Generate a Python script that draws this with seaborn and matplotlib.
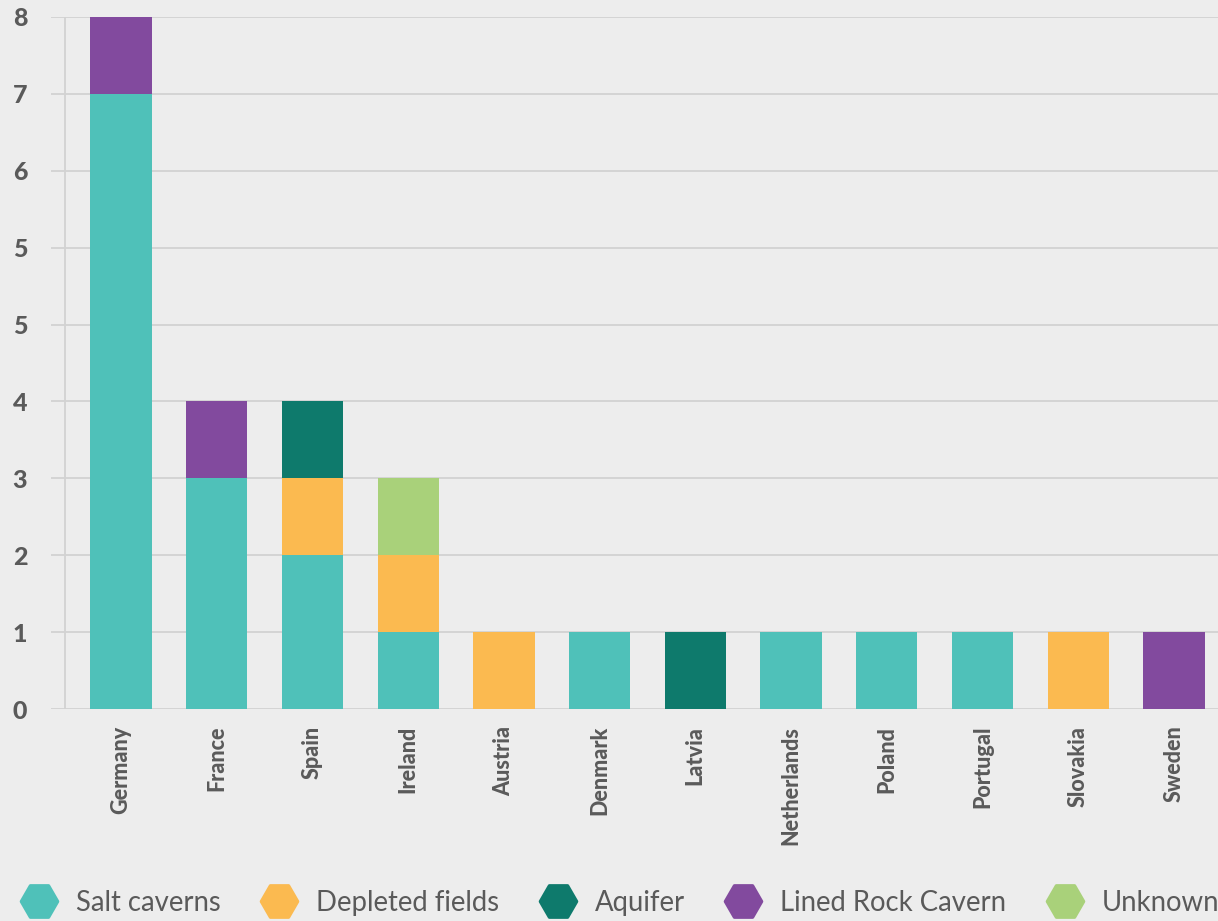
import matplotlib
matplotlib.use("Agg")
import matplotlib.pyplot as plt
import seaborn as sns
import numpy as np
from matplotlib.lines import Line2D
from matplotlib.markers import MarkerStyle

countries = ["Germany", "France", "Spain", "Ireland", "Austria", "Denmark",
             "Latvia", "Netherlands", "Poland", "Portugal", "Slovakia", "Sweden"]
salt_caverns = [8, 3, 2, 1, 0, 1, 0, 1, 1, 1, 0, 0]
depleted_fields = [0, 0, 1, 1, 1, 0, 0, 0, 0, 0, 1, 0]
aquifer = [0, 0, 1, 0, 0, 0, 1, 0, 0, 0, 0, 0]
lined_rock_cavern = [1, 1, 0, 0, 0, 0, 0, 0, 0, 0, 0, 1]
unknown = [0, 0, 0, 1, 0, 0, 0, 0, 0, 0, 0, 0]
series_names = ["Salt caverns", "Depleted fields", "Aquifer", "Lined Rock Cavern", "Unknown"]
series_colors = ["#4FC1B9", "#FBBA50", "#0E7A6C", "#824A9E", "#A9D17A"]
ytick_values = [0, 1, 2, 3, 4, 5, 6, 7, 8, 9]
ytick_labels = ["0", "1", "2", "3", "4", "5", "5", "6", "7", "8"]

BG = "#EDEDED"
GRID = "#D2D2D2"
TXT = "#5A5A5A"

sns.set_theme(style="white")
plt.rcParams["font.family"] = ["Lato", "DejaVu Sans"]
plt.rcParams["font.weight"] = "bold"

fig = plt.figure(figsize=(12.18, 9.21), dpi=100, facecolor=BG)
ax = fig.add_axes([51 / 1218, 1 - 709 / 921, 1 - 51 / 1218, (709 - 17) / 921])
ax.set_facecolor(BG)

layers = [salt_caverns, depleted_fields, aquifer, lined_rock_cavern, unknown]
cum = np.cumsum(np.array(layers, dtype=float), axis=0)
for i in range(len(layers) - 1, -1, -1):
    sns.barplot(x=countries, y=cum[i], order=countries, color=series_colors[i],
                saturation=1, width=0.64, linewidth=0, errorbar=None, ax=ax, zorder=3)

ax.set_xlim(-0.731, 11.46)
ax.set_ylim(0, 9)
ax.set_yticks(ytick_values, ytick_labels, fontweight=900, fontsize=18, color=TXT)
ax.set_xticks(range(len(countries)), countries, fontweight=900, fontsize=15.5,
              color=TXT, rotation=90, ha="center", va="top")
ax.yaxis.grid(True, color=GRID, lw=1.3, zorder=0)
ax.xaxis.grid(False)
ax.set_axisbelow(True)
ax.axvline(-0.585, color=GRID, lw=1.3, zorder=1)
for s in ax.spines.values():
    s.set_visible(False)
ax.set_xlabel("")
ax.set_ylabel("")
ax.tick_params(axis="y", length=0, pad=17)
ax.tick_params(axis="x", length=0, pad=12)

handles = [Line2D([0], [0], linestyle="none",
                  marker=MarkerStyle("H", joinstyle="round"), markersize=26,
                  markerfacecolor=c, markeredgecolor=c, markeredgewidth=2.5)
           for c in series_colors]
leg = fig.legend(handles, series_names, loc="center left",
                 bbox_to_anchor=(18 / 1218, 1 - 903 / 921), bbox_transform=fig.transFigure,
                 ncol=5, frameon=False, prop={"family": ["Lato", "DejaVu Sans"], "weight": "normal", "size": 19.8},
                 handlelength=1.53, handletextpad=0.58, columnspacing=1.36,
                 borderpad=0, borderaxespad=0, labelcolor=TXT)

fig.savefig("out.png", dpi=100, facecolor=BG)
